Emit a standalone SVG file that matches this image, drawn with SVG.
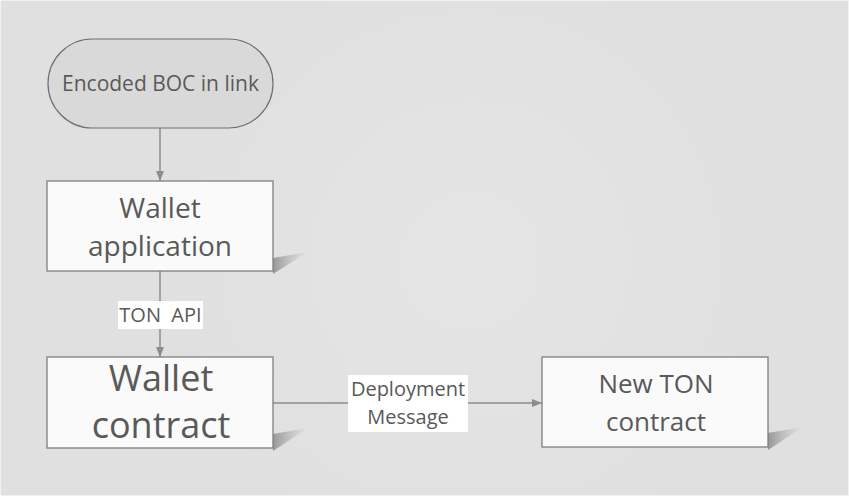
<svg xmlns="http://www.w3.org/2000/svg" width="849" height="496" viewBox="0 0 849 496">
<defs>
<radialGradient id="bg" cx="470" cy="260" r="300" gradientUnits="userSpaceOnUse">
<stop offset="0" stop-color="#e5e5e5"/>
<stop offset="1" stop-color="#e0e0e0"/>
</radialGradient>
<linearGradient id="sh" x1="0" y1="0" x2="1" y2="0">
<stop offset="0" stop-color="#8a8a8a" stop-opacity="0.85"/>
<stop offset="1" stop-color="#b0b0b0" stop-opacity="0"/>
</linearGradient>
<marker id="ah" viewBox="0 0 10 10" refX="10" refY="5" markerWidth="10" markerHeight="10" markerUnits="userSpaceOnUse" orient="auto">
<path d="M0,1 L10,5 L0,9 z" fill="#8c8c8c"/>
</marker>
</defs>
<style>
.box{fill:#fafafa;stroke:#7f7f7f;stroke-width:1.3}
.t{font-family:"Open Sans","Noto Sans",sans-serif;fill:#595959;text-anchor:middle}
.lbl{font-family:"Open Sans","Noto Sans",sans-serif;fill:#595959;text-anchor:middle;font-size:20px}
.c{stroke:#8c8c8c;stroke-width:1.5;fill:none}
.shadow{fill:url(#sh)}
</style>
<rect x="0" y="0" width="849" height="496" fill="url(#bg)"/>
<rect x="0.5" y="0.5" width="848" height="495" fill="none" stroke="#f2f2f2" stroke-width="1"/>
<g id="connectors">
<line class="c" x1="160" y1="128" x2="160" y2="181" marker-end="url(#ah)"/>
<line class="c" x1="160" y1="271" x2="160" y2="357" marker-end="url(#ah)"/>
<line class="c" x1="273" y1="403" x2="542" y2="403" marker-end="url(#ah)"/>
<g id="label-tonapi">
<rect x="118" y="301" width="85" height="28" fill="#ffffff"/>
<text class="lbl" x="160.5" y="322">TON&#160; API</text>
</g>
<g id="label-deploy">
<rect x="348" y="375" width="120" height="57" fill="#ffffff"/>
<text class="lbl" x="408" y="396">Deployment</text>
<text class="lbl" x="408" y="424">Message</text>
</g>
</g>
<g id="node-boc">
<rect x="48" y="39" width="225" height="89" rx="44.5" ry="44.5" fill="#d9d9d9" stroke="#707070" stroke-width="1.2"/>
<text class="t" x="160.5" y="91" font-size="21">Encoded BOC in link</text>
</g>
<g id="node-wallet-app">
<polygon class="shadow" points="273,258 308,252 273,274"/>
<rect class="box" x="47" y="181" width="226" height="90"/>
<text class="t" x="160" y="218" font-size="28">Wallet</text>
<text class="t" x="160" y="256" font-size="28">application</text>
</g>
<g id="node-wallet-contract">
<polygon class="shadow" points="273,434 308,428 273,451"/>
<rect class="box" x="47" y="357" width="226" height="91"/>
<text class="t" x="161" y="391" font-size="36">Wallet</text>
<text class="t" x="161" y="438" font-size="36">contract</text>
</g>
<g id="node-new-ton">
<polygon class="shadow" points="768,433 803,427 768,450"/>
<rect class="box" x="542" y="357" width="226" height="90"/>
<text class="t" x="656" y="393" font-size="26">New TON</text>
<text class="t" x="656" y="431" font-size="26">contract</text>
</g>
</svg>
